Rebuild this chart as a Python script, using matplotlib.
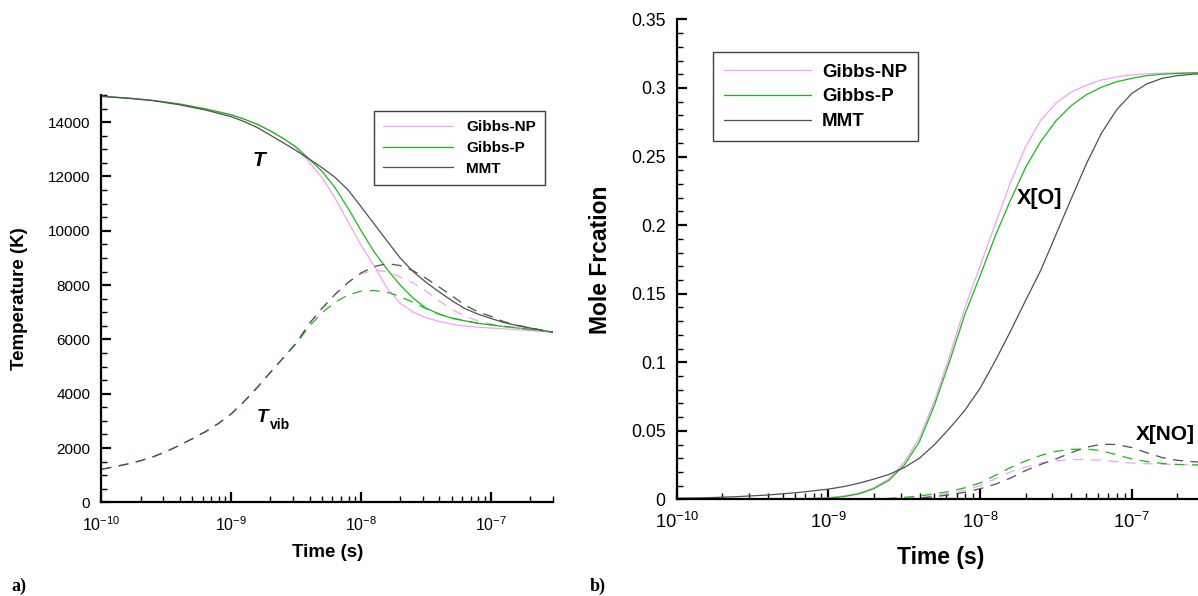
import numpy as np
import matplotlib
matplotlib.use("Agg")
import matplotlib.pyplot as plt
from matplotlib.ticker import MultipleLocator, FixedLocator, LogLocator, FuncFormatter, NullFormatter

plt.rcParams['font.family'] = ['Liberation Sans', 'DejaVu Sans']
plt.rcParams['mathtext.default'] = 'regular'

# ---- panel a : temperatures, time given as log10(t / s) ----
lt_T_mmt = [-10, -9.8, -9.6, -9.4, -9.2, -9.0, -8.9, -8.8, -8.7, -8.6, -8.5, -8.4, -8.3, -8.2,
            -8.1, -8.0, -7.9, -7.8, -7.7, -7.6, -7.5, -7.4, -7.3, -7.2, -7.1, -7.0, -6.9,
            -6.8, -6.7, -6.6, -6.52]
T_mmt = [14950, 14880, 14790, 14640, 14450, 14200, 14020, 13800, 13520, 13240, 12950, 12640,
         12320, 11960, 11500, 10880, 10250, 9620, 9000, 8500, 8100, 7750, 7420, 7130, 6930,
         6770, 6620, 6510, 6420, 6330, 6260]

lt_T_gp = [-10, -9.8, -9.6, -9.4, -9.2, -9.0, -8.9, -8.8, -8.7, -8.6, -8.5, -8.4, -8.3, -8.2,
           -8.1, -8.0, -7.9, -7.8, -7.7, -7.6, -7.5, -7.4, -7.3, -7.2, -7.1, -7.0, -6.9,
           -6.8, -6.7, -6.6, -6.52]
T_gp = [14950, 14890, 14800, 14670, 14490, 14270, 14110, 13920, 13680, 13400, 13080, 12640,
        12180, 11580, 10820, 10000, 9220, 8580, 8000, 7520, 7150, 6930, 6780, 6680, 6590,
        6530, 6470, 6420, 6370, 6310, 6270]

lt_T_np = [-10, -9.8, -9.6, -9.4, -9.2, -9.0, -8.9, -8.8, -8.7, -8.6, -8.5, -8.4, -8.3, -8.2,
           -8.1, -8.0, -7.9, -7.8, -7.7, -7.6, -7.5, -7.4, -7.3, -7.2, -7.1, -7.0, -6.9,
           -6.8, -6.7, -6.6, -6.52]
T_np = [14950, 14890, 14800, 14670, 14490, 14270, 14110, 13920, 13680, 13400, 13050, 12530,
        11950, 11200, 10320, 9460, 8700, 7890, 7330, 7000, 6800, 6660, 6560, 6490, 6450,
        6420, 6390, 6360, 6320, 6290, 6270]

lt_Tv_mmt = [-10, -9.9, -9.8, -9.7, -9.6, -9.5, -9.4, -9.3, -9.2, -9.1, -9.0, -8.9, -8.8, -8.7,
             -8.6, -8.5, -8.4, -8.3, -8.2, -8.1, -8.0, -7.9, -7.8, -7.7, -7.6, -7.5, -7.4,
             -7.3, -7.2, -7.1, -7.0, -6.9, -6.8, -6.7, -6.6, -6.52]
Tv_mmt = [1215, 1310, 1410, 1530, 1680, 1870, 2100, 2340, 2600, 2900, 3260, 3720, 4230, 4780,
          5320, 5870, 6580, 7150, 7660, 8100, 8450, 8680, 8790, 8720, 8530, 8250, 7930,
          7600, 7260, 7010, 6850, 6650, 6520, 6430, 6330, 6260]

lt_Tv_np = [-10, -9.9, -9.8, -9.7, -9.6, -9.5, -9.4, -9.3, -9.2, -9.1, -9.0, -8.9, -8.8, -8.7,
            -8.6, -8.5, -8.4, -8.3, -8.2, -8.1, -8.0, -7.9, -7.8, -7.7, -7.6, -7.5, -7.4,
            -7.3, -7.2, -7.1, -7.0, -6.9, -6.8, -6.7, -6.6, -6.52]
Tv_np = [1215, 1310, 1410, 1530, 1680, 1870, 2100, 2340, 2600, 2900, 3260, 3720, 4230, 4780,
         5320, 5870, 6580, 7150, 7660, 8100, 8420, 8550, 8490, 8300, 8080, 7780, 7420,
         7100, 6850, 6680, 6560, 6480, 6420, 6360, 6300, 6270]

lt_Tv_gp = [-10, -9.9, -9.8, -9.7, -9.6, -9.5, -9.4, -9.3, -9.2, -9.1, -9.0, -8.9, -8.8, -8.7,
            -8.6, -8.5, -8.4, -8.3, -8.2, -8.1, -8.0, -7.9, -7.8, -7.7, -7.6, -7.5, -7.4,
            -7.3, -7.2, -7.1, -7.0, -6.9, -6.8, -6.7, -6.6, -6.52]
Tv_gp = [1215, 1310, 1410, 1530, 1680, 1870, 2100, 2340, 2600, 2900, 3260, 3720, 4230, 4780,
         5320, 5850, 6480, 6990, 7370, 7640, 7780, 7800, 7740, 7580, 7360, 7130, 6930,
         6780, 6690, 6600, 6540, 6480, 6430, 6370, 6310, 6270]

# ---- panel b : mole fractions ----
lt_O_np = [-10, -9.4, -9.2, -9.0, -8.9, -8.8, -8.7, -8.6, -8.5, -8.4, -8.3, -8.2, -8.1, -8.0,
           -7.9, -7.8, -7.7, -7.6, -7.5, -7.4, -7.3, -7.2, -7.1, -7.0, -6.9, -6.8, -6.6, -6.52]
O_np = [0.0, 0.0, 0.0003, 0.0012, 0.0025, 0.0045, 0.0085, 0.0150, 0.0270, 0.0450, 0.0720,
        0.1050, 0.1400, 0.1700, 0.2006, 0.2309, 0.2570, 0.2765, 0.2888, 0.2970, 0.3020, 0.3058,
        0.3080, 0.3095, 0.3103, 0.3108, 0.3110, 0.3110]

lt_O_gp = [-10, -9.4, -9.2, -9.0, -8.9, -8.8, -8.7, -8.6, -8.5, -8.4, -8.3, -8.2, -8.1, -8.0,
           -7.9, -7.8, -7.7, -7.6, -7.5, -7.4, -7.3, -7.2, -7.1, -7.0, -6.9, -6.8, -6.7, -6.6, -6.52]
O_gp = [0.0, 0.0, 0.0002, 0.0010, 0.0020, 0.0040, 0.0078, 0.0140, 0.0250, 0.0420, 0.0690,
        0.1010, 0.1350, 0.1630, 0.1920, 0.2180, 0.2420, 0.2610, 0.2760, 0.2870, 0.2950, 0.3005,
        0.3045, 0.3070, 0.3090, 0.3100, 0.3106, 0.3110, 0.3110]

lt_O_mmt = [-10, -9.8, -9.6, -9.4, -9.2, -9.0, -8.9, -8.8, -8.7, -8.6, -8.5, -8.4, -8.3, -8.2,
            -8.1, -8.0, -7.9, -7.8, -7.7, -7.6, -7.5, -7.4, -7.3, -7.2, -7.1, -7.0, -6.9,
            -6.8, -6.7, -6.6, -6.52]
O_mmt = [0.0008, 0.0012, 0.0020, 0.0032, 0.0050, 0.0075, 0.0093, 0.0118, 0.0148, 0.0182,
         0.0232, 0.0300, 0.0400, 0.0520, 0.0650, 0.0810, 0.1010, 0.1225, 0.1450, 0.1670,
         0.1930, 0.2190, 0.2445, 0.2670, 0.2840, 0.2960, 0.3030, 0.3070, 0.3090, 0.3100, 0.3105]

lt_NO_gp = [-10, -9.0, -8.8, -8.6, -8.5, -8.4, -8.3, -8.2, -8.1, -8.0, -7.9, -7.8, -7.7, -7.6,
            -7.5, -7.4, -7.3, -7.2, -7.1, -7.0, -6.9, -6.8, -6.7, -6.6, -6.52]
NO_gp = [0.0, 0.0, 0.0002, 0.0008, 0.0015, 0.0025, 0.0040, 0.0058, 0.0085, 0.0120, 0.0175,
         0.0232, 0.0280, 0.0320, 0.0350, 0.0365, 0.0367, 0.0355, 0.0325, 0.0295, 0.0275,
         0.0262, 0.0255, 0.0252, 0.0250]

lt_NO_mmt = [-10, -8.7, -8.5, -8.4, -8.3, -8.2, -8.1, -8.0, -7.9, -7.8, -7.7, -7.6, -7.5, -7.4,
             -7.3, -7.2, -7.1, -7.0, -6.9, -6.8, -6.7, -6.6, -6.52]
NO_mmt = [0.0, 0.0, 0.0004, 0.0010, 0.0020, 0.0033, 0.0052, 0.0078, 0.0110, 0.0155, 0.0210,
          0.0255, 0.0295, 0.0340, 0.0380, 0.0402, 0.0400, 0.0378, 0.0340, 0.0305, 0.0285,
          0.0275, 0.0270]

lt_NO_np = [-10, -8.7, -8.5, -8.4, -8.3, -8.2, -8.1, -8.0, -7.9, -7.8, -7.7, -7.6, -7.5, -7.4,
            -7.3, -7.2, -7.1, -7.0, -6.9, -6.8, -6.7, -6.6, -6.52]
NO_np = [0.0, 0.0, 0.0005, 0.0012, 0.0025, 0.0042, 0.0068, 0.0100, 0.0150, 0.0200, 0.0235,
         0.0265, 0.0282, 0.0290, 0.0290, 0.0285, 0.0275, 0.0265, 0.0260, 0.0257, 0.0254,
         0.0252, 0.0250]

noms = ['Gibbs-NP', 'Gibbs-P', 'MMT']
couleurs = ['#f7a0f7', '#10c010', '#505050']
xticks = [1e-10, 1e-9, 1e-8, 1e-7]
xlabels = ['$10^{-10}$', '$10^{-9}$', '$10^{-8}$', '$10^{-7}$']


def t(lt):
    return 10.0 ** np.array(lt)


def style_axes(ax, fs_tick, ymaj, ymin):
    ax.set_xscale('log')
    ax.set_xlim(1e-10, 3e-7)
    for s in ['top', 'right']:
        ax.spines[s].set_visible(False)
    for s in ['left', 'bottom']:
        ax.spines[s].set_linewidth(1.6)
    ax.xaxis.set_major_locator(FixedLocator(xticks))
    ax.xaxis.set_major_formatter(FuncFormatter(lambda v, p: xlabels[xticks.index(v)] if v in xticks else ''))
    ax.xaxis.set_minor_locator(LogLocator(base=10, subs=np.arange(2, 10)))
    ax.xaxis.set_minor_formatter(NullFormatter())
    ax.yaxis.set_major_locator(MultipleLocator(ymaj))
    ax.yaxis.set_minor_locator(MultipleLocator(ymin))
    ax.yaxis.set_major_formatter(FuncFormatter(lambda v, p: '%g' % round(v, 4)))
    ax.tick_params(which='major', direction='in', length=7.5, width=1.6, labelsize=fs_tick, pad=8)
    ax.tick_params(which='minor', direction='in', length=4.5, width=1.0)
    ax.tick_params(axis='x', which='major', pad=9, labelsize=fs_tick + 0.5)


fig = plt.figure(figsize=(11.98, 5.96), dpi=100)
ax1 = fig.add_axes([0.0847, 0.1572, 0.3769, 0.6834])
ax2 = fig.add_axes([0.5649, 0.1621, 0.4402, 0.8054])

lw = 0.9
dash = (8, 6)

# panel a
for lt, v, c, n in [(lt_T_np, T_np, couleurs[0], noms[0]),
                    (lt_T_gp, T_gp, couleurs[1], noms[1]),
                    (lt_T_mmt, T_mmt, couleurs[2], noms[2])]:
    ax1.plot(t(lt), v, color=c, lw=lw, label=n)
for lt, v, c in [(lt_Tv_np, Tv_np, couleurs[0]),
                 (lt_Tv_gp, Tv_gp, couleurs[1]),
                 (lt_Tv_mmt, Tv_mmt, couleurs[2])]:
    ax1.plot(t(lt), v, color=c, lw=lw, dashes=dash)
ax1.set_ylim(0, 15000)
style_axes(ax1, 11, 2000, 500)
ax1.set_xlabel('Time (s)', fontsize=13.5, fontweight='bold')
ax1.set_ylabel('Temperature (K)', fontsize=13.5, fontweight='bold')
ax1.xaxis.set_label_coords(0.5, -0.103)
ax1.yaxis.set_label_coords(-0.162, 0.5)
leg1 = ax1.legend(loc='upper left', bbox_to_anchor=(0.603, 0.961), fancybox=False,
                  edgecolor='#404040', framealpha=1, borderaxespad=0,
                  prop={'weight': 'bold', 'size': 11}, handlelength=4.6,
                  handletextpad=0.85, labelspacing=0.45, borderpad=0.6)
leg1.get_frame().set_linewidth(1.0)
ax1.text(10 ** -8.79, 12600, 'T', fontsize=15, fontweight='bold', style='italic',
         ha='center', va='center')
ax1.text(10 ** -8.758, 3140, 'T', fontsize=13.5, fontweight='bold', style='italic',
         ha='center', va='center')
ax1.text(10 ** -8.7, 2850, 'vib', fontsize=10, fontweight='bold', ha='left', va='center')

# panel b
for lt, v, c, n in [(lt_O_np, O_np, couleurs[0], noms[0]),
                    (lt_O_gp, O_gp, couleurs[1], noms[1]),
                    (lt_O_mmt, O_mmt, couleurs[2], noms[2])]:
    ax2.plot(t(lt), v, color=c, lw=lw, label=n)
for lt, v, c in [(lt_NO_np, NO_np, couleurs[0]),
                 (lt_NO_gp, NO_gp, couleurs[1]),
                 (lt_NO_mmt, NO_mmt, couleurs[2])]:
    ax2.plot(t(lt), v, color=c, lw=lw, dashes=dash)
ax2.set_ylim(0, 0.35)
style_axes(ax2, 12.7, 0.05, 0.01)
ax2.set_xlabel('Time (s)', fontsize=16.5, fontweight='bold')
ax2.set_ylabel('Mole Frcation', fontsize=16.5, fontweight='bold')
ax2.xaxis.set_label_coords(0.5, -0.097)
ax2.yaxis.set_label_coords(-0.122, 0.5)
leg2 = ax2.legend(loc='upper left', bbox_to_anchor=(0.069, 0.931), fancybox=False,
                  edgecolor='#404040', framealpha=1, borderaxespad=0,
                  prop={'weight': 'bold', 'size': 13.5}, handlelength=4.6,
                  handletextpad=0.6, labelspacing=0.4, borderpad=0.6)
leg2.get_frame().set_linewidth(1.0)
ax2.text(10 ** -7.605, 0.2197, 'X[O]', fontsize=15.5, fontweight='bold', ha='center', va='center')
ax2.text(10 ** -6.78, 0.047, 'X[NO]', fontsize=15, fontweight='bold', ha='center', va='center')

fig.text(19 / 1198, 1 - 586 / 596, 'a)', family='Liberation Serif', fontweight='bold',
         fontsize=13, ha='center', va='center')
fig.text(598 / 1198, 1 - 586 / 596, 'b)', family='Liberation Serif', fontweight='bold',
         fontsize=13, ha='center', va='center')

fig.savefig('out.png', dpi=100)
